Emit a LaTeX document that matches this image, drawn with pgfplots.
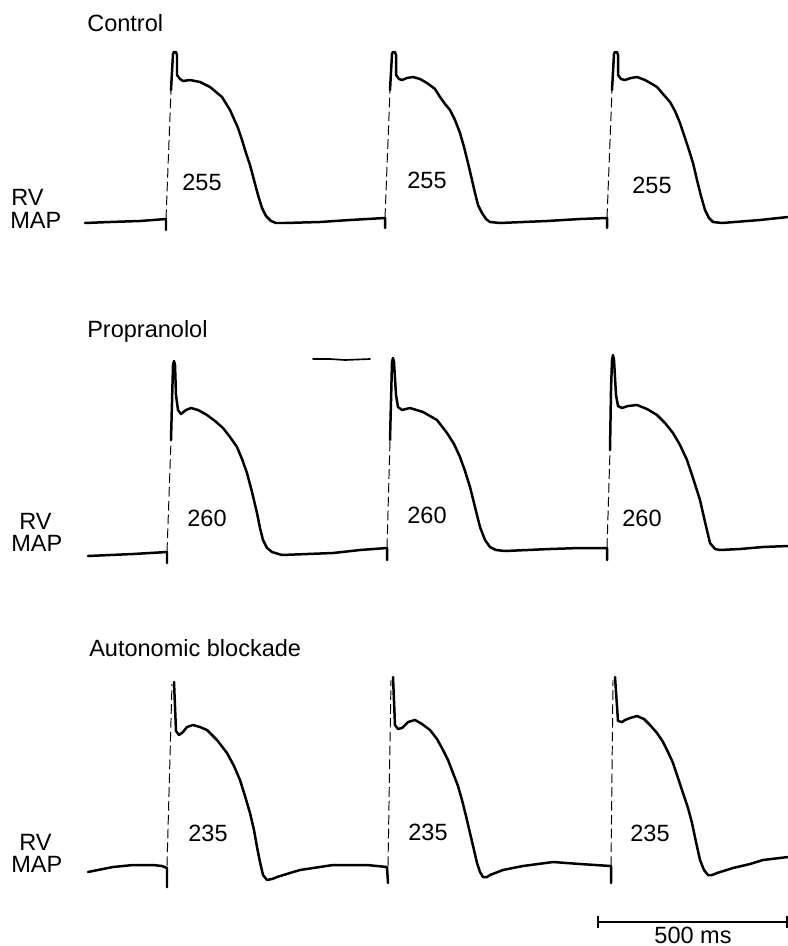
\documentclass[border=0pt]{standalone}
\usepackage{fontspec}
\setmainfont{Liberation Sans}
\usepackage{pgfplots}
\pgfplotsset{compat=1.18}
\tikzset{
  tr/.style={black, solid, line width=1.8pt, line join=round, line cap=round},
  up/.style={black, line width=0.7pt, dash pattern=on 7pt off 3pt},
  lab/.style={inner sep=0pt, font=\fontsize{17}{19}\selectfont},
}
\begin{document}
\begin{tikzpicture}
\begin{axis}[
  scale only axis, width=7.88in, height=9.46in,
  xmin=0, xmax=788, ymin=0, ymax=946, y dir=reverse,
  hide axis, clip=false,
  unbounded coords=jump, no markers,
]
% ---------------- Control ----------------
\addplot[tr] coordinates {
(85,223) (110,222) (140,221) (166,219) (166,230) (166,nan)
(171,90) (173,54) (174,52) (176,52) (177,55) (177,75) (180,79) (183,81) (190,80) (200,82) (210,87) (216,92) (222,97) (230,110) (238,128) (242,140) (246,153) (250,165) (254,180) (258,195) (262,208) (266,216) (271,221) (276,223) (285,223) (320,222) (350,220) (385,218) (385,228) (385,nan)
(390,90) (392,54) (393,52) (395,52) (396,55) (396,75) (399,79) (402,80) (407,78) (413,77) (420,79) (427,83) (435,89) (440,97) (445,104) (450,110) (455,120) (460,133) (464,147) (468,163) (472,180) (475,193) (478,205) (482,213) (486,219) (490,222) (500,223) (547,221) (580,219) (607,218) (607,228) (607,nan)
(612,90) (614,54) (615,52) (617,52) (618,55) (618,75) (621,79) (625,80) (631,78) (637,77) (645,80) (652,84) (657,87) (663,94) (670,102) (675,111) (680,123) (684,135) (688,147) (693,163) (697,180) (701,196) (705,210) (709,218) (713,222) (722,223) (760,220) (788,217)
};
\addplot[up] coordinates {(166,219) (171,90) (171,nan) (385,218) (390,90) (390,nan) (607,218) (612,90)};
% ---------------- Propranolol ----------------
\addplot[tr] coordinates {
(88,556) (133,554) (167,552) (167,563) (167,nan)
(171,440) (173,365) (174,361) (175,365) (176,395) (178,410) (181,414) (186,410) (191,408) (198,410) (207,415) (215,421) (223,428) (230,437) (237,447) (242,459) (247,473) (252,492) (257,513) (260,528) (263,540) (267,548) (272,552) (282,555) (333,553) (360,550) (387,548) (387,560) (387,nan)
(390,440) (392,362) (393,358) (394,362) (396,395) (398,407) (402,410) (406,409) (410,408) (423,412) (437,420) (447,433) (454,444) (460,457) (465,471) (470,487) (475,507) (480,527) (485,540) (490,547) (496,550) (505,551) (550,549) (580,548) (607,548) (607,560) (607,nan)
(610,450) (611,390) (612,360) (613,355) (614,360) (616,395) (618,406) (622,408) (628,406) (637,405) (647,409) (657,415) (665,423) (673,433) (680,445) (687,460) (693,478) (700,500) (705,522) (710,543) (715,549) (720,550) (740,549) (763,547) (788,546)
};
\addplot[up] coordinates {(167,552) (171,440) (171,nan) (387,548) (390,440) (390,nan) (607,548) (610,450)};
\addplot[tr, line width=1.2pt] coordinates {(313,359) (330,359) (345,360) (370,359)};
% ---------------- Autonomic blockade ----------------
\addplot[tr] coordinates {
(88,872) (113,867) (133,865) (153,865) (162,866) (167,868) (167,887) (167,nan)
(174,682) (176,731) (179,735) (183,732) (187,727) (193,725) (200,727) (207,730) (217,740) (227,753) (234,766) (240,780) (245,796) (250,813) (254,830) (257,847) (260,862) (263,875) (267,880) (272,879) (277,877) (290,873) (300,870) (333,865) (367,865) (387,867) (388,883) (388,nan)
(393,677) (395,725) (398,729) (402,728) (408,722) (415,720) (422,724) (430,730) (437,739) (443,750) (448,760) (453,773) (458,786) (462,800) (466,816) (470,833) (474,850) (477,863) (480,872) (483,877) (487,877) (490,875) (503,870) (523,866) (553,862) (580,864) (611,866) (611,883) (611,nan)
(615,677) (618,721) (622,722) (625,720) (630,718) (637,716) (644,719) (650,725) (657,733) (663,742) (668,752) (673,763) (678,778) (683,793) (688,808) (692,823) (696,842) (700,860) (704,870) (708,875) (712,875) (717,873) (733,868) (750,864) (763,860) (788,857)
};
\addplot[up] coordinates {(167,866) (172,684) (172,nan) (388,866) (391,680) (391,nan) (611,866) (613,680)};
% ---------------- scale bar ----------------
\addplot[tr, line width=1pt, line cap=butt] coordinates {(598,916) (598,928) (598,nan) (598,922) (787,922) (787,nan) (787,916) (787,928)};
% ---------------- labels ----------------
\node[lab, anchor=base west] at (axis cs:87,32) {Control};
\node[lab, anchor=base west] at (axis cs:87,337) {Propranolol};
\node[lab, anchor=base west] at (axis cs:89,656) {Autonomic blockade};
\node[lab, anchor=base west] at (axis cs:11,205) {RV};
\node[lab, anchor=base west] at (axis cs:10,228) {MAP};
\node[lab, anchor=base west] at (axis cs:19,529) {RV};
\node[lab, anchor=base west] at (axis cs:11,551) {MAP};
\node[lab, anchor=base west] at (axis cs:19,850) {RV};
\node[lab, anchor=base west] at (axis cs:11,872) {MAP};
\node[lab] at (axis cs:202,182) {255};
\node[lab] at (axis cs:427,180) {255};
\node[lab] at (axis cs:652,185) {255};
\node[lab] at (axis cs:207,518) {260};
\node[lab] at (axis cs:427,515) {260};
\node[lab] at (axis cs:642,518) {260};
\node[lab] at (axis cs:208,833) {235};
\node[lab] at (axis cs:428,832) {235};
\node[lab] at (axis cs:650,833) {235};
\node[lab, anchor=base] at (axis cs:693,943) {500 ms};
\end{axis}
\pgfresetboundingbox
\path[use as bounding box] (current axis.south west) rectangle (current axis.north east);
\end{tikzpicture}
\end{document}
